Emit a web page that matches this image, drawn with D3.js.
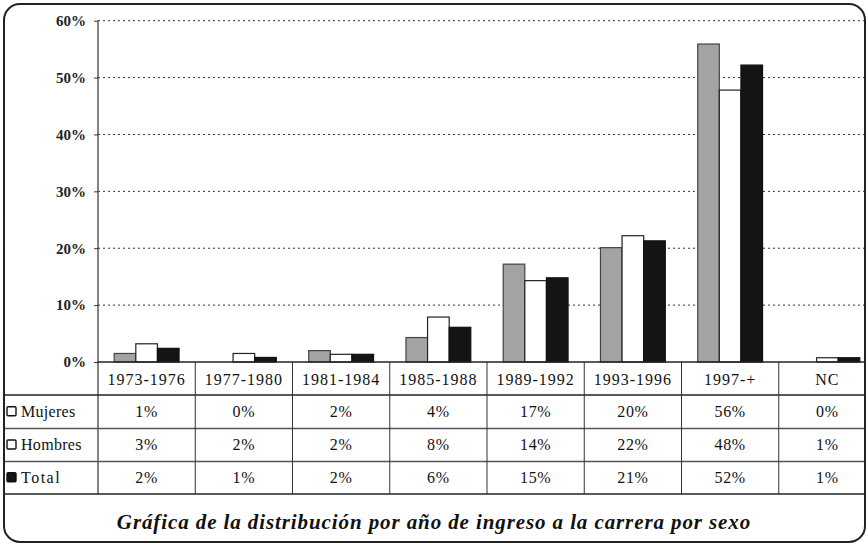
<!DOCTYPE html>
<html><head><meta charset="utf-8">
<script src="https://cdn.jsdelivr.net/npm/d3@7"></script>
<style>body{margin:0;background:#fff}svg{display:block}</style>
</head><body>
<svg id="c" width="868" height="545"></svg>
<script>
const categories = ["1973-1976","1977-1980","1981-1984","1985-1988","1989-1992","1993-1996","1997-+","NC"];
const seriesNames = ["Mujeres","Hombres","Total"];
const mujeres = [1.5, 0, 2.0, 4.3, 17.2, 20.1, 55.9, 0];
const hombres = [3.2, 1.5, 1.35, 7.9, 14.3, 22.2, 47.8, 0.75];
const total   = [2.4, 0.8, 1.35, 6.1, 14.8, 21.3, 52.2, 0.75];
const mujeresLabels = ["1%","0%","2%","4%","17%","20%","56%","0%"];
const hombresLabels = ["3%","2%","2%","8%","14%","22%","48%","1%"];
const totalLabels   = ["2%","1%","2%","6%","15%","21%","52%","1%"];
const yTicks = [0,10,20,30,40,50,60];
const title = "Gráfica de la distribución por año de ingreso a la carrera por sexo";

(function(){
const values = [mujeres, hombres, total];
const labels = [mujeresLabels, hombresLabels, totalLabels];
const fills = ["#a3a3a3", "#ffffff", "#141414"];
const strokes = ["#444", "#222", "#111"];
const legendFills = ["#ffffff", "#ffffff", "#141414"];

const svg = d3.select("#c");
const font = "'Liberation Serif','Times New Roman',serif";

const plotLeft = 98, plotRight = 876, plotTop = 20.7, zeroY = 362;
const x0 = d3.scaleBand().domain(categories).range([plotLeft, plotRight]).padding(0);
const x1 = d3.scaleBand().domain(seriesNames).range([0, x0.bandwidth()]).paddingInner(0).paddingOuter(0.75);
const y = d3.scaleLinear().domain([0, 60]).range([zeroY, plotTop]);

svg.append("defs").append("clipPath").attr("id","clip")
  .append("rect").attr("x",4).attr("y",4).attr("width",861).attr("height",538).attr("rx",16);
const g = svg.append("g").attr("clip-path","url(#clip)");

// gridlines
g.selectAll("line.grid").data(yTicks.filter(d=>d>0)).join("line")
  .attr("x1", plotLeft).attr("x2", 866).attr("y1", d=>y(d)).attr("y2", d=>y(d))
  .attr("stroke","#333").attr("stroke-width",1).attr("stroke-dasharray","2,3");

// bars
seriesNames.forEach((s, si) => {
  g.selectAll("rect.s"+si).data(categories.map((c,i)=>({c, v: values[si][i]}))).join("rect")
    .attr("x", d => x0(d.c) + x1(s))
    .attr("width", x1.bandwidth())
    .attr("y", d => y(d.v))
    .attr("height", d => Math.max(0, zeroY - y(d.v)))
    .attr("fill", fills[si])
    .attr("stroke", d => d.v > 0 ? strokes[si] : "none")
    .attr("stroke-width", 1.2);
});

// y axis
const yAxis = d3.axisLeft(y).tickValues(yTicks).tickSize(4).tickFormat(d => d + "%");
const ya = g.append("g").attr("transform", `translate(${plotLeft},0)`).call(yAxis);
ya.select(".domain").remove();
ya.selectAll(".tick line").attr("stroke","#333");
ya.selectAll(".tick text").attr("x",-12).attr("font-family",font).attr("font-size",15).attr("font-weight","bold").attr("fill","#222");
g.append("line").attr("x1",plotLeft).attr("x2",plotLeft).attr("y1",plotTop).attr("y2",494).attr("stroke","#333").attr("stroke-width",1.2);

// table
const rowTops = [zeroY, 395, 428.5, 461.5, 494];
g.append("line").attr("x1",plotLeft).attr("x2",868).attr("y1",zeroY).attr("y2",zeroY).attr("stroke","#222").attr("stroke-width",1.3);
[395, 428.5, 461.5, 494].forEach((yy,i)=>{
  g.append("line").attr("x1",4).attr("x2",868).attr("y1",yy).attr("y2",yy)
   .attr("stroke", (i==1||i==2) ? "#555" : "#222").attr("stroke-width", 1.3);
});
categories.forEach((c,i)=>{
  if (i===0) return;
  g.append("line").attr("x1",x0(c)).attr("x2",x0(c)).attr("y1",zeroY).attr("y2",494).attr("stroke","#333").attr("stroke-width",1);
});
g.selectAll("text.cat").data(categories).join("text")
  .attr("x", d => x0(d) + x0.bandwidth()/2)
  .attr("y", 385).attr("text-anchor","middle")
  .attr("font-family",font).attr("font-size",16).attr("fill","#111")
  .attr("letter-spacing", 1)
  .text(d=>d);
seriesNames.forEach((s, si) => {
  const cy = (rowTops[si+1] + rowTops[si+2]) / 2;
  g.append("rect").attr("x",7).attr("y",cy-5).attr("width",9).attr("height",9).attr("rx",1)
    .attr("fill",legendFills[si]).attr("stroke","#111").attr("stroke-width",1.4);
  g.append("text").attr("x",21).attr("y",cy+5).attr("font-family",font).attr("font-size",16)
    .attr("fill","#111").attr("letter-spacing", si===2 ? 1.5 : 0.3).text(s);
  g.selectAll("text.v"+si).data(categories.map((c,i)=>({c, t: labels[si][i]}))).join("text")
    .attr("x", d => x0(d.c) + x0.bandwidth()/2).attr("y", cy+5).attr("text-anchor","middle")
    .attr("font-family",font).attr("font-size",16).attr("font-weight","normal").attr("fill","#111")
    .attr("letter-spacing", 0.6)
    .text(d=>d.t);
});

g.append("text").attr("x",434).attr("y",529).attr("text-anchor","middle")
  .attr("font-family",font).attr("font-size",21).attr("font-weight","bold").attr("font-style","italic")
  .attr("letter-spacing", 0.9)
  .attr("fill","#111").text(title);

svg.append("rect").attr("x",4).attr("y",4).attr("width",861).attr("height",538).attr("rx",16)
  .attr("fill","none").attr("stroke","#222").attr("stroke-width",2);
})();
</script>
</body></html>
